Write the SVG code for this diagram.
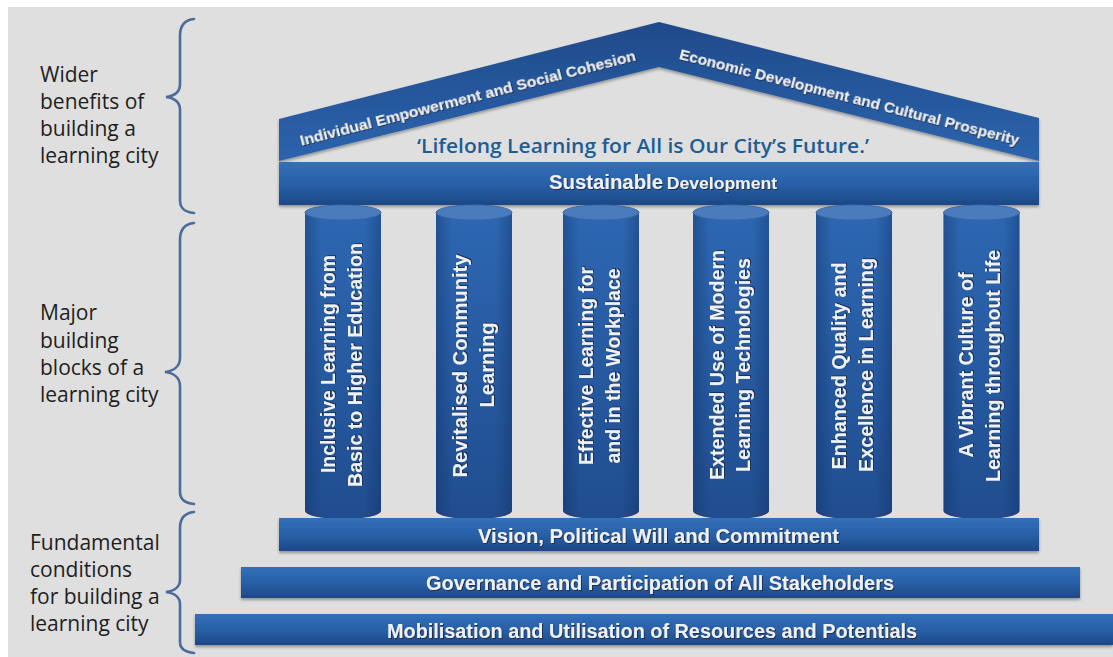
<svg xmlns="http://www.w3.org/2000/svg" xmlns:xlink="http://www.w3.org/1999/xlink" width="1113" height="657" viewBox="0 0 1113 657">
<style>
.lbl{font-family:"Open Sans","Liberation Sans",Arial,sans-serif;font-size:21px;fill:#1e1e1e}
.wt{font-family:"Liberation Sans",Arial,sans-serif;font-weight:bold;fill:#eef1f6;filter:url(#tshadow)}
.pt{font-size:21px;text-anchor:middle}
.bt{font-size:20px;text-anchor:middle}
.rt{font-size:15.5px;text-anchor:middle}
.quote{font-family:"Open Sans","Liberation Sans",sans-serif;font-weight:600;font-size:19px;fill:#1c5d96;text-anchor:middle}
.brace{fill:none;stroke:#4a6c98;stroke-width:2.6;stroke-linecap:round}
.bar{fill:url(#gBar);filter:url(#shadow)}
</style>
<defs>
<linearGradient id="gBar" x1="0" y1="0" x2="0" y2="1">
<stop offset="0" stop-color="#3270b9"/><stop offset="0.5" stop-color="#2960a8"/><stop offset="1" stop-color="#1d4886"/>
</linearGradient>
<linearGradient id="gRoof" gradientUnits="userSpaceOnUse" x1="0" y1="22" x2="0" y2="162">
<stop offset="0" stop-color="#1f4a8a"/><stop offset="1" stop-color="#2d64ad"/>
</linearGradient>
<linearGradient id="gPillarV" x1="0" y1="0" x2="0" y2="1">
<stop offset="0" stop-color="#2d67b2"/><stop offset="1" stop-color="#204d8f"/>
</linearGradient>
<linearGradient id="gPillarH" x1="0" y1="0" x2="1" y2="0">
<stop offset="0" stop-color="#0d2a5a" stop-opacity="0.35"/><stop offset="0.22" stop-color="#0d2a5a" stop-opacity="0"/><stop offset="0.78" stop-color="#0d2a5a" stop-opacity="0"/><stop offset="1" stop-color="#0d2a5a" stop-opacity="0.35"/>
</linearGradient>
<filter id="shadow" x="-5%" y="-30%" width="110%" height="170%">
<feDropShadow dx="0" dy="2" stdDeviation="1.5" flood-color="#000" flood-opacity="0.35"/>
</filter>
<filter id="tshadow" x="-5%" y="-30%" width="110%" height="170%">
<feDropShadow dx="1" dy="1" stdDeviation="0.6" flood-color="#1a2a40" flood-opacity="0.9"/>
</filter>
<g id="pillarShape">
<path d="M-38,212 L-38,511 A38,8 0 0 0 38,511 L38,212 Z" fill="url(#gPillarV)"/>
<path d="M-38,212 L-38,511 A38,8 0 0 0 38,511 L38,212 Z" fill="url(#gPillarH)"/>
<ellipse cx="0" cy="212.5" rx="38" ry="7.5" fill="#4a7bbd" stroke="#3768a8" stroke-width="1"/>
</g>
</defs>

<rect x="0" y="0" width="1113" height="657" fill="#ffffff"/>
<rect x="8" y="7" width="1105" height="650" fill="#dfdfdf"/>

<g id="labels">
<text class="lbl" x="40" y="82">Wider</text>
<text class="lbl" x="40" y="109">benefits of</text>
<text class="lbl" x="40" y="136">building a</text>
<text class="lbl" x="40" y="163">learning city</text>
<text class="lbl" x="40" y="320">Major</text>
<text class="lbl" x="40" y="348">building</text>
<text class="lbl" x="40" y="375">blocks of a</text>
<text class="lbl" x="40" y="402">learning city</text>
<text class="lbl" x="30" y="550">Fundamental</text>
<text class="lbl" x="30" y="577">conditions</text>
<text class="lbl" x="30" y="604">for building a</text>
<text class="lbl" x="30" y="631">learning city</text>
</g>

<g id="connectors">
<path class="brace" d="M194,19 C184,20 180,26 180,36 L180,84 C180,92 174,96 166,97 C174,98 180,102 180,110 L180,200 C180,208 184,212 194,213"/>
<path class="brace" d="M194,223 C184,224 180,230 180,240 L180,358 C180,366 174,371 165,372 C174,373 180,378 180,386 L180,492 C180,499 184,503 194,504"/>
<path class="brace" d="M194,512 C184,513 180,519 180,528 L180,580 C180,587 174,591 166,592 C174,593 180,597 180,604 L180,642 C180,648 184,652 194,653"/>
</g>

<g id="roof">
<polygon points="279,119 659,22 1039,118 1039,161 659,67 279,161" fill="url(#gRoof)" filter="url(#shadow)"/>
<text class="wt rt" transform="translate(469,103) rotate(-14.3)" textLength="346" lengthAdjust="spacingAndGlyphs">Individual Empowerment and Social Cohesion</text>
<text class="wt rt" transform="translate(848,102) rotate(14.3)" textLength="350" lengthAdjust="spacingAndGlyphs">Economic Development and Cultural Prosperity</text>
</g>

<g id="quote">
<text class="quote" x="643" y="153" textLength="452" lengthAdjust="spacingAndGlyphs">‘Lifelong Learning for All is Our City’s Future.’</text>
</g>

<g id="sustainable-development">
<rect class="bar" x="279" y="162" width="760" height="43"/>
<text class="wt" x="549" y="189"><tspan font-size="20" textLength="114" lengthAdjust="spacingAndGlyphs">Sustainable</tspan><tspan font-size="17" x="662" textLength="115" lengthAdjust="spacingAndGlyphs"> Development</tspan></text>
</g>

<g id="pillar1">
<use xlink:href="#pillarShape" x="343"/>
<text class="wt pt" transform="translate(335,364) rotate(-90)" textLength="218" lengthAdjust="spacingAndGlyphs">Inclusive Learning from</text>
<text class="wt pt" transform="translate(362,365) rotate(-90)" textLength="244" lengthAdjust="spacingAndGlyphs">Basic to Higher Education</text>
</g>
<g id="pillar2">
<use xlink:href="#pillarShape" x="474"/>
<text class="wt pt" transform="translate(467,366) rotate(-90)" textLength="223" lengthAdjust="spacingAndGlyphs">Revitalised Community</text>
<text class="wt pt" transform="translate(494,365) rotate(-90)" textLength="85" lengthAdjust="spacingAndGlyphs">Learning</text>
</g>
<g id="pillar3">
<use xlink:href="#pillarShape" x="601"/>
<text class="wt pt" transform="translate(593,366) rotate(-90)" textLength="198" lengthAdjust="spacingAndGlyphs">Effective Learning for</text>
<text class="wt pt" transform="translate(620,366) rotate(-90)" textLength="195" lengthAdjust="spacingAndGlyphs">and in the Workplace</text>
</g>
<g id="pillar4">
<use xlink:href="#pillarShape" x="731"/>
<text class="wt pt" transform="translate(724,365) rotate(-90)" textLength="230" lengthAdjust="spacingAndGlyphs">Extended Use of Modern</text>
<text class="wt pt" transform="translate(750,365) rotate(-90)" textLength="214" lengthAdjust="spacingAndGlyphs">Learning Technologies</text>
</g>
<g id="pillar5">
<use xlink:href="#pillarShape" x="854"/>
<text class="wt pt" transform="translate(846,366) rotate(-90)" textLength="207" lengthAdjust="spacingAndGlyphs">Enhanced Quality and</text>
<text class="wt pt" transform="translate(873,365) rotate(-90)" textLength="214" lengthAdjust="spacingAndGlyphs">Excellence in Learning</text>
</g>
<g id="pillar6">
<use xlink:href="#pillarShape" x="981.5"/>
<text class="wt pt" transform="translate(973,365) rotate(-90)" textLength="185" lengthAdjust="spacingAndGlyphs">A Vibrant Culture of</text>
<text class="wt pt" transform="translate(1000,366) rotate(-90)" textLength="232" lengthAdjust="spacingAndGlyphs">Learning throughout Life</text>
</g>

<g id="vision">
<rect class="bar" x="279" y="518" width="760" height="33"/>
<text class="wt bt" x="658.5" y="543" textLength="361" lengthAdjust="spacingAndGlyphs">Vision, Political Will and Commitment</text>
</g>
<g id="governance">
<rect class="bar" x="241" y="567" width="839" height="31"/>
<text class="wt bt" x="660" y="590" textLength="468" lengthAdjust="spacingAndGlyphs">Governance and Participation of All Stakeholders</text>
</g>
<g id="mobilisation">
<rect class="bar" x="195" y="614" width="918" height="31"/>
<text class="wt bt" x="652" y="638" textLength="530" lengthAdjust="spacingAndGlyphs">Mobilisation and Utilisation of Resources and Potentials</text>
</g>
</svg>
